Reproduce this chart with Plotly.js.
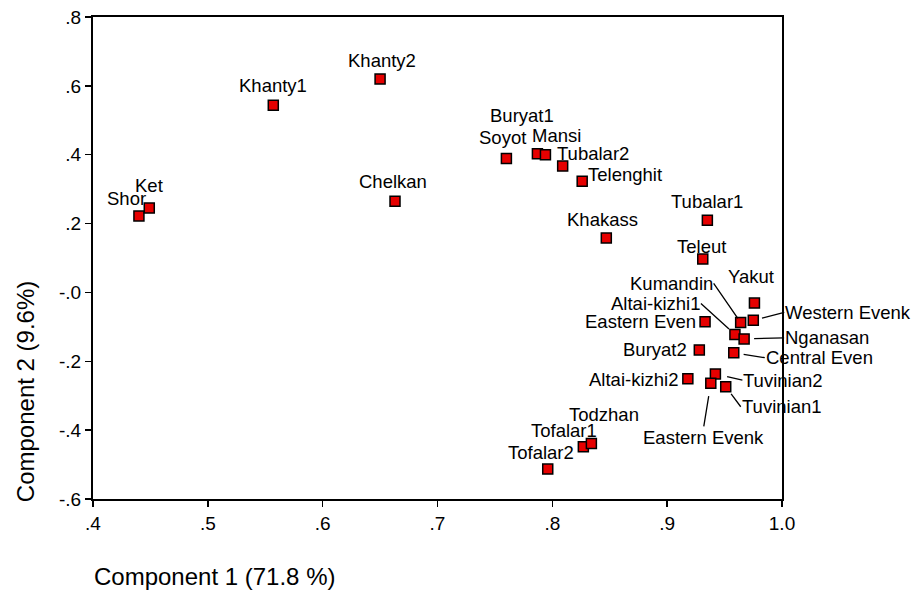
<!DOCTYPE html>
<html>
<head>
<meta charset="utf-8">
<script src="https://cdn.plot.ly/plotly-3.0.1.min.js"></script>
<style>
  html, body { margin: 0; padding: 0; background: #fff; }
  #chart { width: 917px; height: 592px; }
</style>
</head>
<body>
<div id="chart"></div>
<script>
// ---- data ----
const names = ["Shor","Ket","Khanty1","Khanty2","Chelkan","Soyot","Buryat1","Mansi","Tubalar2","Telenghit",
  "Khakass","Tubalar1","Teleut","Yakut","Western Evenk","Kumandin","Eastern Even","Altai-kizhi1","Nganasan",
  "Buryat2","Central Even","Altai-kizhi2","Tuvinian2","Eastern Evenk","Tuvinian1","Tofalar1","Todzhan","Tofalar2"];
const comp1 = [0.440,0.449,0.557,0.650,0.663,0.760,0.787,0.794,0.809,0.826,
  0.847,0.935,0.931,0.976,0.975,0.964,0.933,0.959,0.967,
  0.928,0.958,0.918,0.942,0.938,0.951,0.827,0.834,0.796];
const comp2 = [0.222,0.245,0.544,0.620,0.265,0.389,0.403,0.400,0.367,0.323,
  0.158,0.210,0.097,-0.031,-0.081,-0.087,-0.085,-0.122,-0.135,
  -0.167,-0.175,-0.251,-0.237,-0.264,-0.274,-0.448,-0.439,-0.513];
const xTickVals = [0.4,0.5,0.6,0.7,0.8,0.9,1.0];
const xTickText = [".4",".5",".6",".7",".8",".9","1.0"];
const yTickVals = [-0.6,-0.4,-0.2,0,0.2,0.4,0.6,0.8];
const yTickText = ["-.6","-.4","-.2","-.0",".2",".4",".6",".8"];
const xTitle = "Component 1 (71.8 %)";
const yTitle = "Component 2 (9.6%)";

// ---- label placement (pixel offsets from each marker) ----
// plain labels: [dx, dy(up), anchor]
const plainLabel = {
  "Shor":[-12,18,"center"], "Ket":[0,23,"center"], "Khanty1":[0,20,"center"], "Khanty2":[2,18,"center"],
  "Chelkan":[-2,20,"center"], "Soyot":[-4,21,"center"], "Buryat1":[-15,38,"center"], "Mansi":[11,19,"center"],
  "Tubalar2":[30,13,"center"], "Telenghit":[43,7,"center"], "Khakass":[-4,19,"center"], "Tubalar1":[0,19,"center"],
  "Teleut":[-1,13,"center"], "Yakut":[-3,27,"center"], "Eastern Even":[-7,0,"right"], "Buryat2":[-10,0,"right"],
  "Altai-kizhi2":[-8,-1,"right"], "Tofalar1":[-19,16,"center"], "Todzhan":[13,29,"center"], "Tofalar2":[-7,17,"center"]
};
// leader labels: [ax, ay(down), xanchor, yanchor, standoff]
const leaderLabel = {
  "Kumandin":[-27,-39,"right","middle",5],
  "Altai-kizhi1":[-34,-31,"right","middle",8],
  "Western Evenk":[31,-8,"left","middle",9],
  "Nganasan":[40,-1,"left","middle",10],
  "Central Even":[31,5,"left","middle",10],
  "Tuvinian2":[27,6,"left","middle",12],
  "Tuvinian1":[15,20,"left","middle",9],
  "Eastern Evenk":[-7,43,"center","top",13]
};

const FONT = '"Liberation Sans", Arial, sans-serif';
const labelFont = {family: FONT, size: 18.5, color: "#000"};

const annotations = [];
names.forEach((n, i) => {
  if (plainLabel[n]) {
    const p = plainLabel[n];
    annotations.push({x: comp1[i], y: comp2[i], xref: "x", yref: "y", text: n, showarrow: false,
      xanchor: p[2], yanchor: "middle", xshift: p[0], yshift: p[1], font: labelFont});
  } else if (leaderLabel[n]) {
    const p = leaderLabel[n];
    annotations.push({x: comp1[i], y: comp2[i], xref: "x", yref: "y", text: n, showarrow: true,
      ax: p[0], ay: p[1], xanchor: p[2], yanchor: p[3], arrowhead: 0, arrowwidth: 1.3,
      arrowcolor: "#000", standoff: p[4], borderpad: 0, font: labelFont});
  }
});
annotations.push({xref: "paper", yref: "paper", x: -0.0015, y: -0.16, xanchor: "left", yanchor: "middle",
  text: xTitle, showarrow: false, font: {family: FONT, size: 24, color: "#000"}});
annotations.push({xref: "paper", yref: "paper", x: -0.097, y: 0.222, xanchor: "center", yanchor: "middle",
  textangle: -90, text: yTitle, showarrow: false, font: {family: FONT, size: 24, color: "#000"}});

const trace = {
  x: comp1, y: comp2, text: names, mode: "markers", type: "scatter",
  marker: {symbol: "square", size: 10, color: "#e60000", line: {color: "#000", width: 1.5}},
  hoverinfo: "text", cliponaxis: false
};

const axisCommon = {
  showgrid: false, zeroline: false, showline: true, linecolor: "#000", linewidth: 2, mirror: true,
  ticks: "outside", ticklen: 6, tickwidth: 1.5, tickcolor: "#000",
  tickfont: {family: FONT, size: 19, color: "#000"}
};

const layout = {
  width: 917, height: 592,
  margin: {l: 93, r: 135, t: 17, b: 93},
  paper_bgcolor: "#fff", plot_bgcolor: "#fff",
  showlegend: false,
  xaxis: Object.assign({}, axisCommon, {range: [0.4, 1.0], tickmode: "array", tickvals: xTickVals, ticktext: xTickText}),
  yaxis: Object.assign({}, axisCommon, {range: [-0.6, 0.8], tickmode: "array", tickvals: yTickVals, ticktext: yTickText}),
  annotations: annotations
};

Plotly.newPlot("chart", [trace], layout, {displayModeBar: false, staticPlot: true});
</script>
</body>
</html>
